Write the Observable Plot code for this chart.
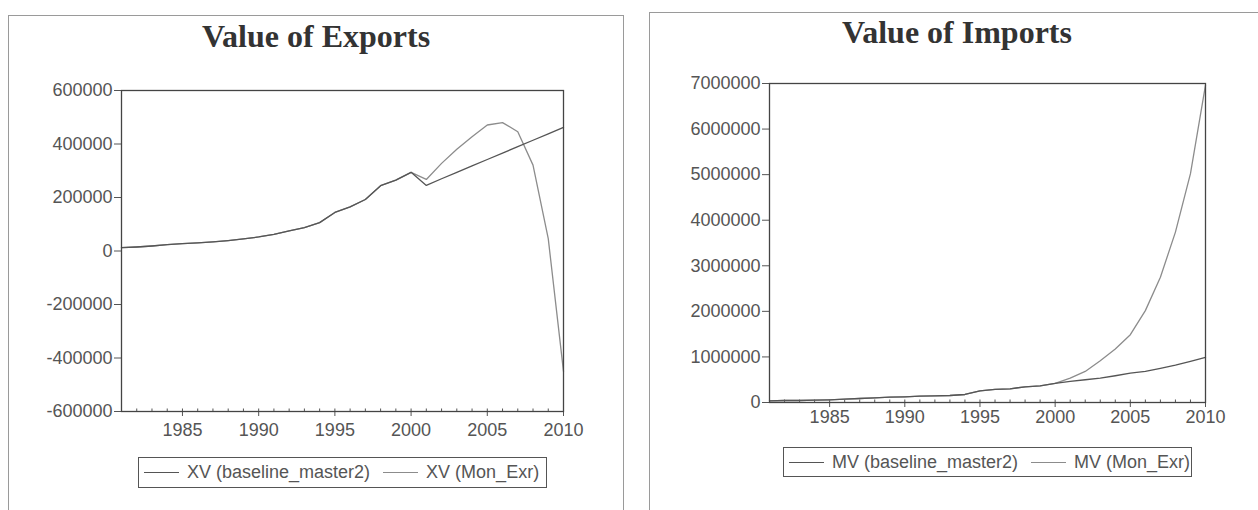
<!DOCTYPE html>
<html><head><meta charset="utf-8">
<script src="https://cdn.jsdelivr.net/npm/d3@7"></script>
<script src="https://cdn.jsdelivr.net/npm/@observablehq/plot@0.6"></script>
<style>
html,body{margin:0;padding:0;background:#fff;}
body{width:1258px;height:510px;overflow:hidden;position:relative;font-family:"Liberation Sans",Arial,sans-serif;}
.panel{position:absolute;border:1px solid #9a9a9a;box-sizing:border-box;}
.title{position:absolute;font-family:"Liberation Serif","Times New Roman",serif;font-weight:bold;font-size:32px;line-height:32px;color:#333;white-space:nowrap;transform:translateX(-50%);}
.chart{position:absolute;top:0;}
.legend{position:absolute;border:1px solid #555;box-sizing:border-box;font-size:18px;color:#555;white-space:nowrap;display:flex;align-items:center;padding-left:5px;}
.legend .sw{display:inline-block;width:35px;height:0;border-top:1.3px solid #555;margin-right:8px;}
.legend .item{display:flex;align-items:center;margin-right:13px;}
</style>
</head><body>
<div class="panel" style="left:8px;top:15px;width:616px;height:505px;"></div>
<div class="panel" style="left:649px;top:12px;width:620px;height:510px;"></div>
<div id="t1" class="title" style="left:316px;top:20px;"></div>
<div id="t2" class="title" style="left:957px;top:16px;"></div>
<div id="c1" class="chart" style="left:0px;"></div>
<div id="c2" class="chart" style="left:640px;"></div>
<div id="l1" class="legend" style="left:138px;top:457px;width:409px;height:31px;"></div>
<div id="l2" class="legend" style="left:783px;top:447px;width:409px;height:30px;"></div>
<script>
const years = [1981,1982,1983,1984,1985,1986,1987,1988,1989,1990,1991,1992,1993,1994,1995,1996,1997,1998,1999,2000,2001,2002,2003,2004,2005,2006,2007,2008,2009,2010];
const majorYears = [1985,1990,1995,2000,2005,2010];

const titles = ["Value of Exports", "Value of Imports"];
const seriesNamesExports = ["XV (baseline_master2)", "XV (Mon_Exr)"];
const seriesNamesImports = ["MV (baseline_master2)", "MV (Mon_Exr)"];

const exportsBaseline = [12500,15000,18750,23750,27500,30000,33750,38750,45000,52500,62500,75000,87500,106000,144000,165000,192500,244000,265000,294000,245000,270000,294000,318000,342000,366000,390000,414000,438000,462500];
const exportsMonExr   = [12500,15000,18750,23750,27500,30000,33750,38750,45000,52500,62500,75000,87500,106000,144000,165000,192500,244000,265000,294000,267500,327500,380000,427500,471000,480000,446000,321000,46000,-450000];

const importsBaseline = [37000,44000,44000,51000,59000,73000,88000,103000,117000,125000,139000,147000,154000,176000,257000,286000,300000,345000,367000,418000,462000,499000,535000,587000,645000,682000,748000,821000,902000,990000];
const importsMonExr   = [37000,44000,44000,51000,59000,73000,88000,103000,117000,125000,139000,147000,154000,176000,257000,286000,300000,345000,367000,418000,535000,682000,916000,1173000,1488000,2016000,2749000,3739000,5022000,6965000];

const exportsTicks = [-600000,-400000,-200000,0,200000,400000,600000];
const importsTicks = [0,1000000,2000000,3000000,4000000,5000000,6000000,7000000];

const colBase = "#555";
const colMon = "#8c8c8c";

function chart(base, mon, domain, ticks, o) {
  const baseRows = years.map((y, i) => ({year: y, value: base[i]}));
  const monRows = years.map((y, i) => ({year: y, value: mon[i]}));
  return Plot.plot({
    width: o.width, height: 510,
    marginLeft: o.mL, marginRight: o.mR, marginTop: o.mT, marginBottom: o.mB,
    style: {fontFamily: "'Liberation Sans', Arial, sans-serif", fontSize: "18px", color: "#555", background: "transparent", overflow: "visible"},
    x: {domain: [1981, 2010]},
    y: {domain},
    marks: [
      Plot.axisY({ticks, tickSize: 7, tickPadding: 2, tickFormat: d => String(d), label: null, stroke: "#555", fill: "#555"}),
      Plot.axisX({ticks: majorYears, tickSize: 5, tickPadding: o.padX, tickFormat: d => String(d), label: null, stroke: "#555", fill: "#555"}),
      Plot.axisX({ticks: years, tickSize: 3, dy: -2.5, text: null, label: null, stroke: "#555"}),
      Plot.line(monRows, {x: "year", y: "value", stroke: colMon, strokeWidth: 1.3}),
      Plot.line(baseRows, {x: "year", y: "value", stroke: colBase, strokeWidth: 1.3}),
      Plot.frame({stroke: "#444", strokeWidth: 1.3})
    ]
  });
}

document.getElementById("t1").textContent = titles[0];
document.getElementById("t2").textContent = titles[1];
document.getElementById("c1").appendChild(chart(exportsBaseline, exportsMonExr, [-600000, 600000], exportsTicks, {width: 630, mL: 121, mR: 67, mT: 90, mB: 99, padX: 7}));
document.getElementById("c2").appendChild(chart(importsBaseline, importsMonExr, [0, 7000000], importsTicks, {width: 618, mL: 129, mR: 53, mT: 83, mB: 108, padX: 3}));

function legend(el, names) {
  const cols = [colBase, colMon];
  names.forEach((n, i) => {
    const it = document.createElement("span");
    it.className = "item";
    const sw = document.createElement("span");
    sw.className = "sw";
    sw.style.borderTopColor = cols[i];
    const tx = document.createElement("span");
    tx.textContent = n;
    it.appendChild(sw); it.appendChild(tx);
    el.appendChild(it);
  });
}
legend(document.getElementById("l1"), seriesNamesExports);
legend(document.getElementById("l2"), seriesNamesImports);
</script>
</body></html>
